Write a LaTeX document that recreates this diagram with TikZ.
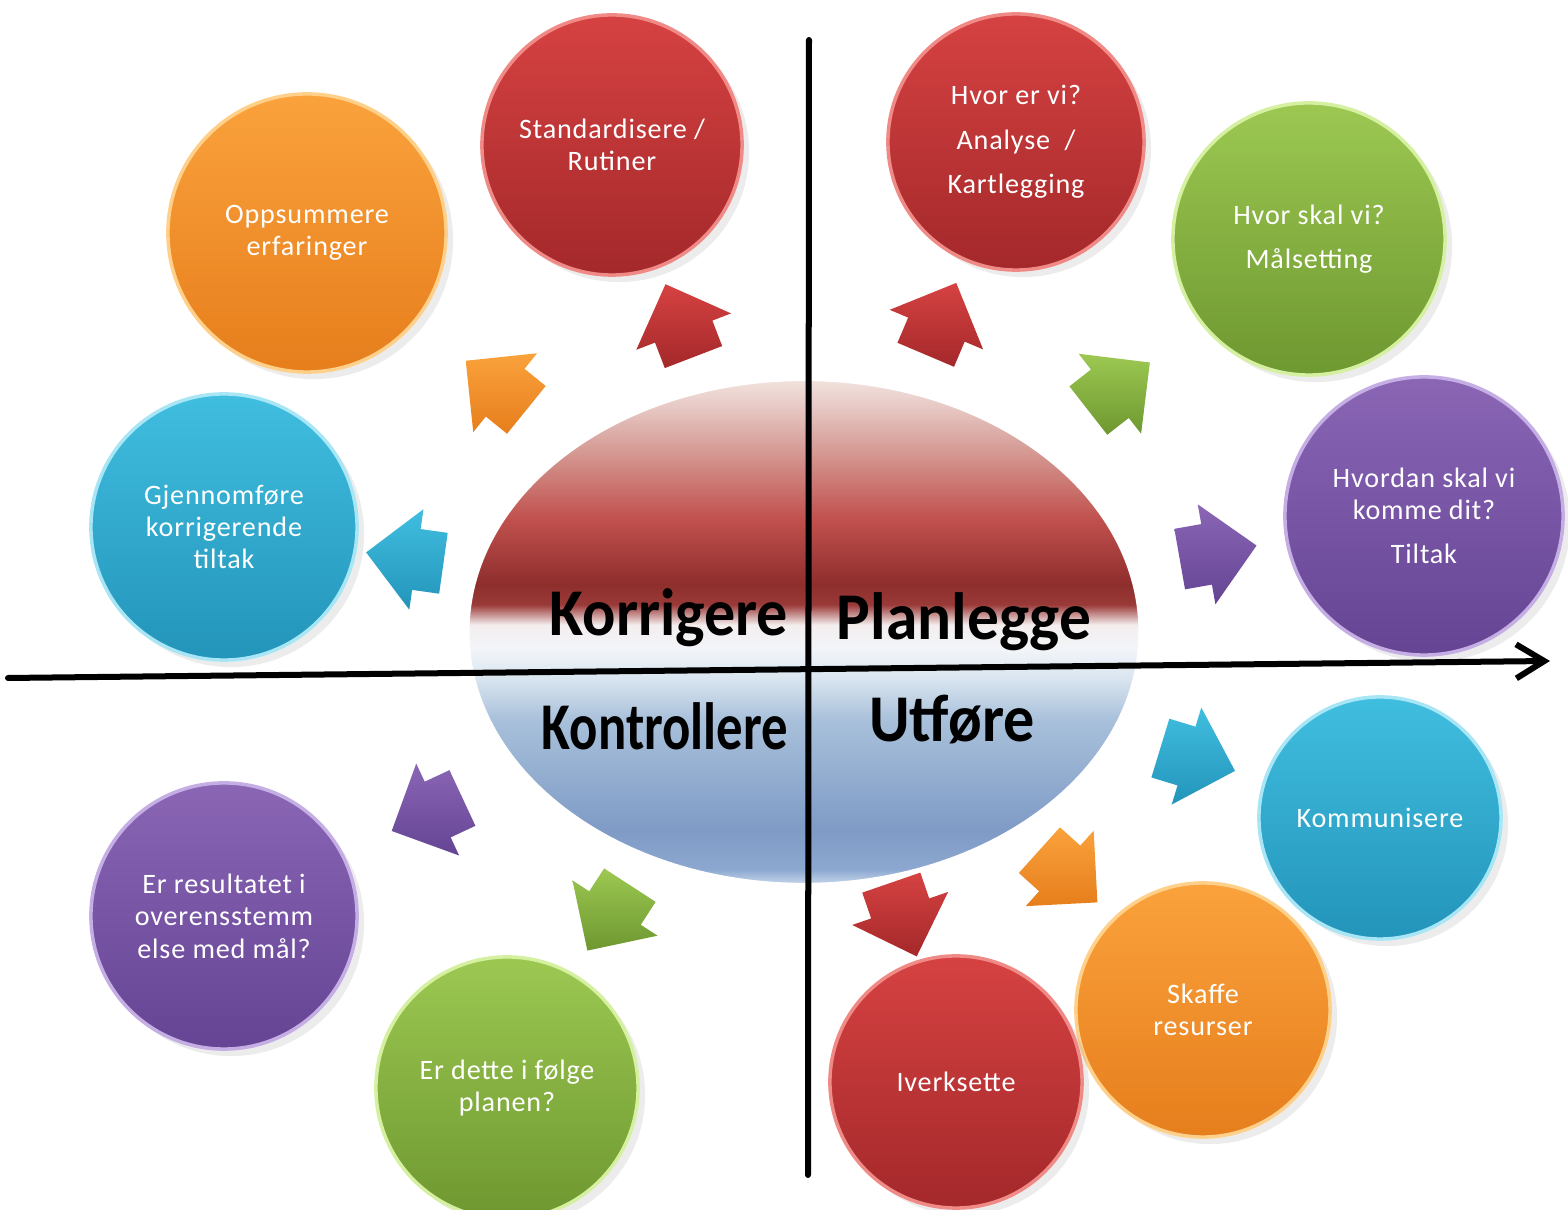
\documentclass[tikz,border=0pt]{standalone}
\usepackage{fontspec}
\setmainfont{Carlito}
\usetikzlibrary{shapes.geometric,shapes.arrows,arrows.meta,shadows}

\definecolor{redT}{HTML}{D64242}
\definecolor{redB}{HTML}{A4282A}
\definecolor{redL}{HTML}{F08A86}
\definecolor{orT}{HTML}{FAA23C}
\definecolor{orB}{HTML}{E67E1C}
\definecolor{orL}{HTML}{FFD08A}
\definecolor{cyT}{HTML}{40BEDF}
\definecolor{cyB}{HTML}{2394BA}
\definecolor{cyL}{HTML}{A8E6F6}
\definecolor{grT}{HTML}{9CC852}
\definecolor{grB}{HTML}{6E9830}
\definecolor{grL}{HTML}{D4F0A0}
\definecolor{puT}{HTML}{8A66B5}
\definecolor{puB}{HTML}{654494}
\definecolor{puL}{HTML}{C4AEE4}
% hub colours, bottom to top
\definecolor{hA}{HTML}{C8D8EC}
\definecolor{hB}{HTML}{8CA8D0}
\definecolor{hC}{HTML}{7F9BC6}
\definecolor{hD}{HTML}{A8C0DA}
\definecolor{hE}{HTML}{D8E4EF}
\definecolor{hF}{HTML}{F2F5F9}
\definecolor{hG}{HTML}{F4EEEE}
\definecolor{hH}{HTML}{9A3A38}
\definecolor{hI}{HTML}{8E2E2D}
\definecolor{hJ}{HTML}{C0504D}
\definecolor{hK}{HTML}{D69C96}
\definecolor{hL}{HTML}{EAD0CC}
\definecolor{hM}{HTML}{F2E2DE}

\pgfdeclareverticalshading{hubshade}{100bp}{
  color(0bp)=(hA); color(25bp)=(hA); color(26.5bp)=(hB); color(30.4bp)=(hC);
  color(41.3bp)=(hD); color(45.3bp)=(hE); color(48.3bp)=(hF); color(50.7bp)=(hG);
  color(52.7bp)=(hH); color(54.7bp)=(hI); color(61.1bp)=(hJ); color(68.1bp)=(hK);
  color(73bp)=(hL); color(75bp)=(hM); color(100bp)=(hM)}

\begin{document}
\begin{tikzpicture}[x=0.01cm, y=-0.01cm,
  bubble/.style={circle, text=white, align=center, inner sep=0pt, line width=1pt,
    font=\fontsize{8}{9.2}\selectfont\addfontfeatures{LetterSpace=3},
    drop shadow={opacity=0.15, shadow xshift=2pt, shadow yshift=-2pt}},
  red bubble/.style={bubble, top color=redT, bottom color=redB, draw=redL},
  orange bubble/.style={bubble, top color=orT, bottom color=orB, draw=orL},
  cyan bubble/.style={bubble, top color=cyT, bottom color=cyB, draw=cyL},
  green bubble/.style={bubble, top color=grT, bottom color=grB, draw=grL},
  purple bubble/.style={bubble, top color=puT, bottom color=puB, draw=puL},
  blk/.style={single arrow, single arrow tip angle=90, single arrow head extend=0.2cm,
    minimum height=0.78cm, inner xsep=0pt, inner ysep=0.3cm},
  quarter/.style={font=\fontsize{19}{19}\bfseries, anchor=base},
  axis/.style={line width=0.06cm, line cap=round, line join=round}]

\useasboundingbox (0,0) rectangle (1568,1210);

% bubbles
\node[red bubble, minimum size=2.6cm] (std) at (612,145) {Standardisere /\\Rutiner};
\node[orange bubble, minimum size=2.78cm] (opp) at (307,233) {Oppsummere\\erfaringer};
\node[cyan bubble, minimum size=2.66cm] (gje) at (224,527) {Gjennomføre\\korrigerende\\tiltak};
\node[red bubble, minimum size=2.56cm] (hvor) at (1016,142) {Hvor er vi?\\[3.4pt]Analyse~~/\\[3.4pt]Kartlegging};
\node[green bubble, minimum size=2.72cm] (skal) at (1309,239) {Hvor skal vi?\\[3.4pt]Målsetting};
\node[purple bubble, minimum size=2.78cm] (dit) at (1424,516) {Hvordan skal vi\\komme dit?\\[3.4pt]Tiltak};
\node[cyan bubble, minimum size=2.42cm] (komm) at (1380,818) {Kommunisere};
\node[orange bubble, minimum size=2.54cm] (skaf) at (1203,1010) {Skaffe\\resurser};
\node[red bubble, minimum size=2.52cm] (iver) at (956,1082) {Iverksette};
\node[green bubble, minimum size=2.62cm] (plan) at (507,1088) {Er dette i følge\\planen?};
\node[purple bubble, minimum size=2.66cm] (res) at (224,916) {Er resultatet i\\overensstemm\\else med mål?};

% block arrows
\node[blk, rotate=111, top color=redT, bottom color=redB] (a1) at (685,335) {};
\node[blk, rotate=141, top color=orT, bottom color=orB] (a2) at (508,395) {};
\node[blk, rotate=172, top color=cyT, bottom color=cyB] (a3) at (420,560) {};
\node[blk, rotate=67, top color=redT, bottom color=redB] (a4) at (935,333) {};
\node[blk, rotate=38, top color=grT, bottom color=grB] (a5) at (1107,396) {};
\node[blk, rotate=10, top color=puT, bottom color=puB] (a6) at (1203,555) {};
\node[blk, rotate=-17, top color=cyT, bottom color=cyB] (a7) at (1183,755) {};
\node[blk, rotate=-42, top color=orT, bottom color=orB] (a8) at (1057,866) {};
\node[blk, rotate=-71, top color=redT, bottom color=redB] (a9) at (899,905) {};
\node[blk, rotate=-155, top color=puT, bottom color=puB] (a10) at (441,808) {};
\node[blk, rotate=-123, top color=grT, bottom color=grB] (a11) at (617,905) {};

% hub
\node[ellipse, minimum width=6.72cm, minimum height=5.05cm, shading=hubshade,
  draw=white, line width=1pt] (hub) at (804,632) {};

% axes
\coordinate (xs) at (8,678);
\coordinate (xe) at (1550,661);
\coordinate (yt) at (809,40);
\coordinate (yb) at (808,1175);
\draw[axis] (yt) -- (yb);
\draw[axis, -{Straight Barb[length=0.28cm, width=0.34cm]}] (xs) -- (xe);

% quarter labels
\node[quarter, xscale=0.93] (korr) at (669,636) {Korrigere};
\node[quarter, xscale=0.95] (plnl) at (964,640) {Planlegge};
\node[quarter, xscale=0.79] (kont) at (665,750) {Kontrollere};
\node[quarter, xscale=0.93] (utf) at (952,742) {Utføre};
\end{tikzpicture}
\end{document}
